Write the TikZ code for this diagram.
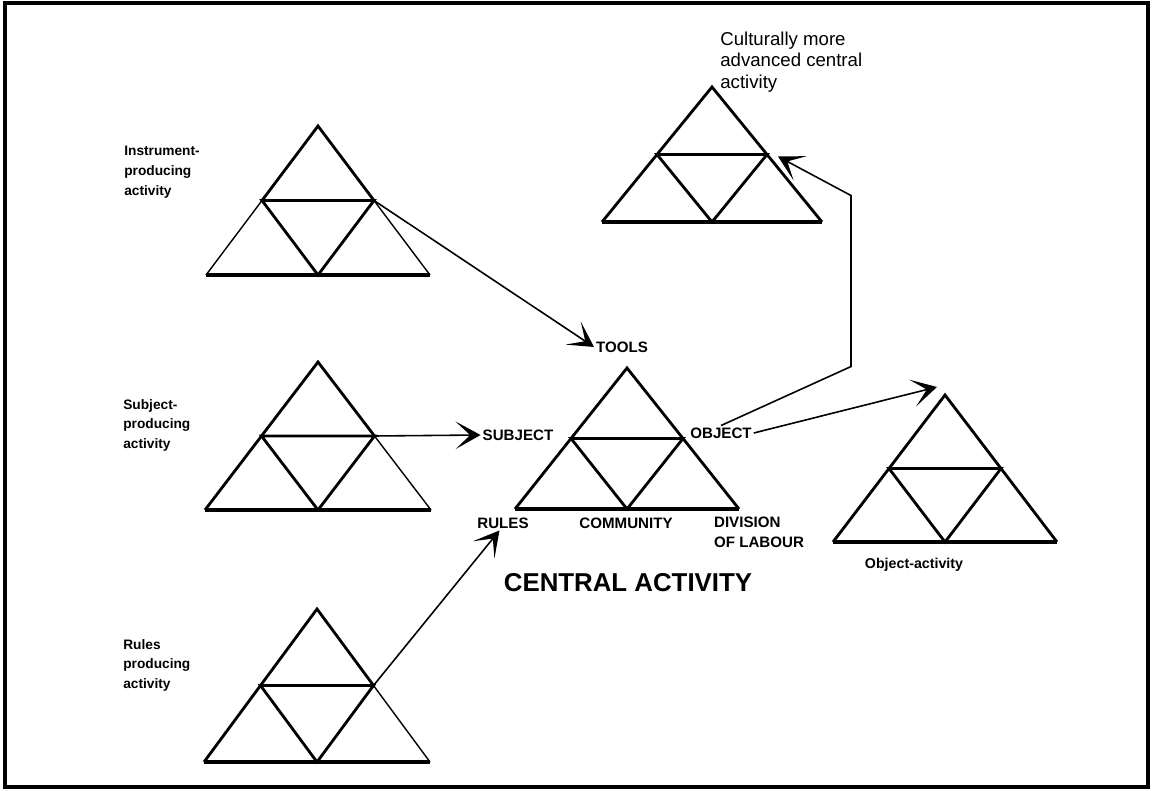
\documentclass[tikz,border=0pt]{standalone}
\usepackage{fontspec}
\setmainfont{Liberation Sans}
\usepackage{tikz}
\usetikzlibrary{arrows.meta,positioning,calc}

\begin{document}
\begin{tikzpicture}[x=0.2mm, y=-0.2mm, >=Stealth]
\tikzstyle{side}=[line width=1.6pt, line join=miter]
\tikzstyle{thin}=[line width=0.8pt]
\tikzstyle{base}=[line width=2.5pt]
\tikzstyle{frame}=[line width=2.2pt]
\tikzstyle{feed}=[line width=0.9pt, -{Stealth[length=5mm, width=5.5mm, inset=2.9mm]}]
\tikzstyle{lbl}=[font=\fontsize{8.6}{10}\selectfont\bfseries, inner sep=1pt]
\tikzstyle{actname}=[font=\fontsize{7.8}{11.2}\selectfont\bfseries, align=left, inner sep=0pt, anchor=north west]

\useasboundingbox (0,0) rectangle (1155,791);
\draw[frame] (5,3) rectangle (1148,787);

% the six activity triangles: name/centre x/apex y/base y/half base/lower left/lower right
\foreach \n/\cx/\ty/\by/\hw/\ls/\rs in {ins/318/126/275/112/thin/thin, sub/318/362/510/113/side/thin,
    rul/317/609/762/113/side/thin, cen/627/368/509/112/side/side, cul/712/87/222/110/side/side,
    obj/945/395/542/112/side/side} {
  \coordinate (\n-t) at (\cx,\ty);
  \coordinate (\n-bl) at (\cx-\hw,\by);
  \coordinate (\n-br) at (\cx+\hw,\by);
  \coordinate (\n-b) at (\cx,\by);
  \coordinate (\n-l) at ($(\n-t)!.5!(\n-bl)$);
  \coordinate (\n-r) at ($(\n-t)!.5!(\n-br)$);
  \draw[side] (\n-l) -- (\n-t) -- (\n-r);
  \draw[\ls] (\n-l) -- (\n-bl);
  \draw[\rs] (\n-r) -- (\n-br);
  \draw[side] (\n-l) -- (\n-r) -- (\n-b) -- cycle;
  \draw[base] (\n-bl) -- (\n-br);
}

% names of the producing activities
\node[actname] (ins-txt) at (124,146) {Instrument-\\producing\\activity};
\node[actname] (sub-txt) at (123,399) {Subject-\\producing\\activity};
\node[actname] (rul-txt) at (123,639) {Rules\\producing\\activity};
\node[actname, font=\fontsize{10.6}{12}\selectfont] (cul-txt) at (720,32) {Culturally more\\advanced central\\activity};
\node[lbl, font=\fontsize{8.1}{10}\selectfont\bfseries] (obj-txt) at (914,565) {Object-activity};

% corners of the central activity
\node[lbl] (tools) at (622,347) {TOOLS};
\node[lbl] (subject) at (518,435) {SUBJECT};
\node[lbl] (object) at (721,433) {OBJECT};
\node[lbl] (rules) at (503,523) {RULES};
\node[lbl] (community) at (626,523) {COMMUNITY};
\node[lbl, align=left, anchor=north west, font=\fontsize{8.6}{11.5}\selectfont\bfseries] (division) at (712,515) {DIVISION\\OF LABOUR};
\node[font=\fontsize{14.7}{18}\selectfont\bfseries] (central) at (628,583) {CENTRAL ACTIVITY};

\coordinate (obj-in) at ($(obj-t)+(-8,-8)$);
\coordinate (cul-in) at ($(cul-r)+(11,2)$);

\draw[feed] (ins-r) -- (tools.west);
\draw[feed] (sub-r) -- (subject.west);
\draw[feed] (rul-r) -- ([xshift=-2pt]rules.south);
\draw[feed] (object.east) -- (obj-in);
\draw[feed] (object.north) -- ++(130,-59) -- ++(0,-171) -- (cul-in);

\end{tikzpicture}
\end{document}
